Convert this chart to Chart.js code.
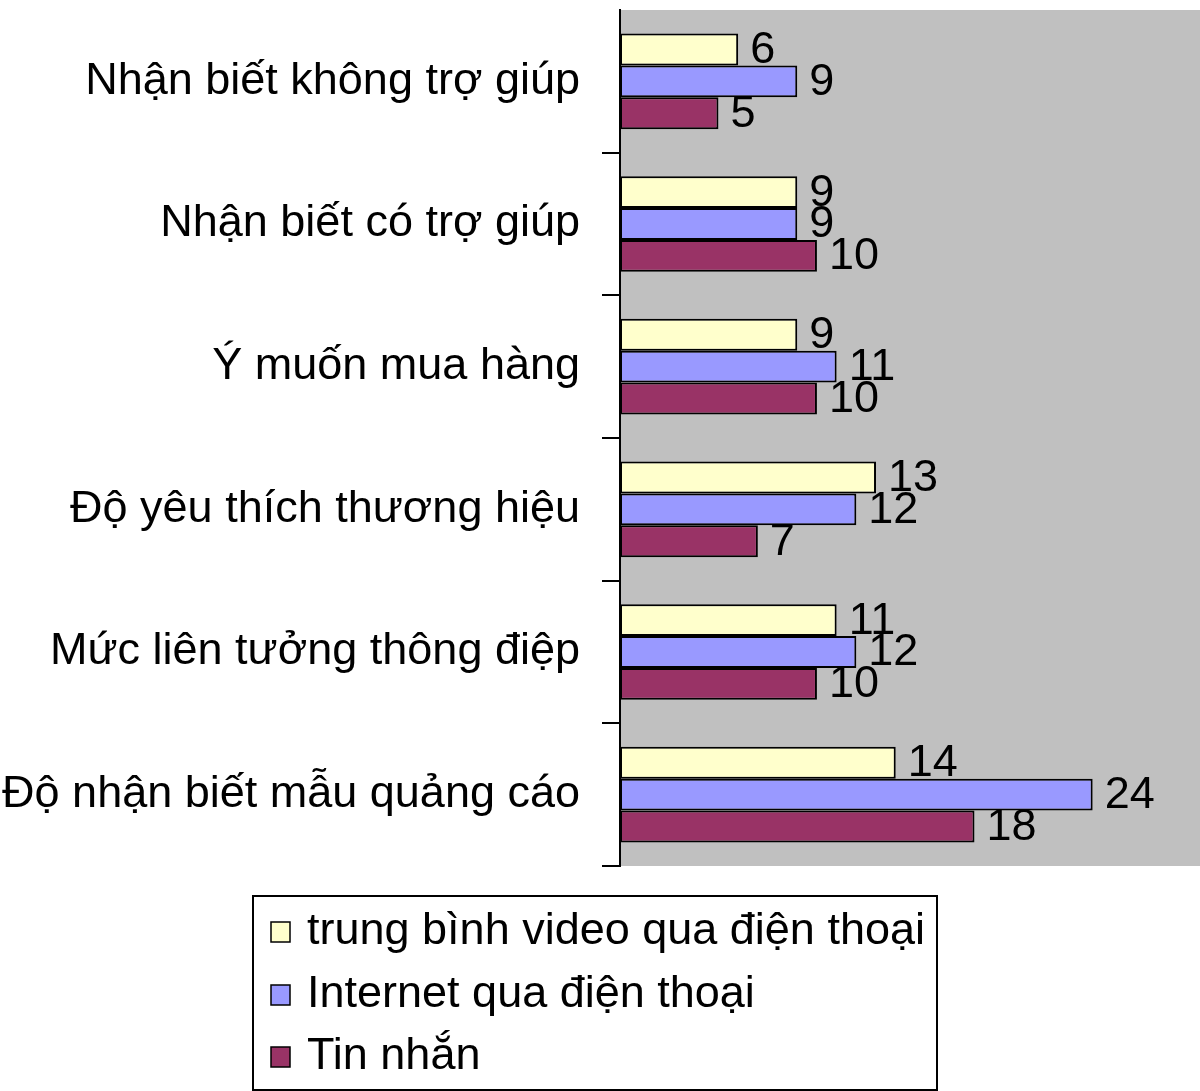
<!DOCTYPE html>
<html>
<head>
<meta charset="utf-8">
<script src="https://cdn.jsdelivr.net/npm/chart.js@4.4.0/dist/chart.umd.min.js"></script>
<style>
html,body{margin:0;padding:0;background:#fff;}
#wrap{width:1200px;height:1091px;position:relative;}
</style>
</head>
<body>
<div id="wrap"><canvas id="c" width="1200" height="1091"></canvas></div>
<script>
const categories = [
  "Nhận biết không trợ giúp",
  "Nhận biết có trợ giúp",
  "Ý muốn mua hàng",
  "Độ yêu thích thương hiệu",
  "Mức liên tưởng thông điệp",
  "Độ nhận biết mẫu quảng cáo"
];
const seriesNames = ["trung bình video qua điện thoại", "Internet qua điện thoại", "Tin nhắn"];
const videoValues = [6, 9, 9, 13, 11, 14];
const internetValues = [9, 9, 11, 12, 12, 24];
const smsValues = [5, 10, 10, 7, 10, 18];
const colors = ["#FFFFCC", "#9999FF", "#993366"];

const FONT = "'Liberation Sans', Arial, sans-serif";
const FS = 45;

const bgPlugin = {
  id: 'bg',
  beforeDraw(chart) {
    const a = chart.chartArea, ctx = chart.ctx;
    ctx.save();
    ctx.fillStyle = '#C0C0C0';
    ctx.fillRect(a.left, a.top, a.right - a.left, a.bottom - a.top);
    ctx.restore();
  }
};

const labelPlugin = {
  id: 'vals',
  afterDatasetsDraw(chart) {
    const ctx = chart.ctx;
    ctx.save();
    ctx.font = FS + 'px ' + FONT;
    ctx.fillStyle = '#000';
    ctx.textAlign = 'left';
    ctx.textBaseline = 'middle';
    chart.data.datasets.forEach((ds, i) => {
      const meta = chart.getDatasetMeta(i);
      meta.data.forEach((el, j) => {
        ctx.fillText(String(ds.data[j]), el.x + 12, el.y + 1);
      });
    });
    ctx.restore();
  }
};

const legendPlugin = {
  id: 'boxLegend',
  afterDraw(chart) {
    const ctx = chart.ctx;
    ctx.save();
    ctx.strokeStyle = '#000';
    ctx.lineWidth = 2;
    ctx.strokeRect(253, 896, 684, 194);
    ctx.font = FS + 'px ' + FONT;
    ctx.textBaseline = 'middle';
    ctx.textAlign = 'left';
    const ys = [932, 995, 1057];
    chart.data.datasets.forEach((ds, i) => {
      ctx.fillStyle = ds.backgroundColor;
      ctx.fillRect(271, ys[i] - 10, 19, 20);
      ctx.lineWidth = 1.5;
      ctx.strokeStyle = '#000';
      ctx.strokeRect(271, ys[i] - 10, 19, 20);
      ctx.fillStyle = '#000';
      ctx.fillText(ds.label, 307, ys[i]);
    });
    ctx.restore();
  }
};

new Chart(document.getElementById('c'), {
  type: 'bar',
  data: {
    labels: categories,
    datasets: [
      { label: seriesNames[0], data: videoValues, backgroundColor: colors[0] },
      { label: seriesNames[1], data: internetValues, backgroundColor: colors[1] },
      { label: seriesNames[2], data: smsValues, backgroundColor: colors[2] }
    ].map(d => Object.assign(d, { borderColor: '#000', borderWidth: 2, borderSkipped: false, categoryPercentage: 0.67, barPercentage: 1.0 }))
  },
  options: {
    indexAxis: 'y',
    responsive: false,
    animation: false,
    layout: { padding: { top: 10, bottom: 225, right: 0, left: 0 } },
    plugins: { legend: { display: false }, tooltip: { enabled: false } },
    scales: {
      x: { display: false, min: 0, max: 29.45 },
      y: {
        afterFit(scale) { scale.width = 620; scale.paddingTop = 0; scale.paddingBottom = 0; },
        border: { display: true, color: '#000', width: 2 },
        grid: {
          drawOnChartArea: false, drawTicks: true, tickLength: 18, lineWidth: 2, offset: true,
          color: (c) => (c.index === 0 ? 'rgba(0,0,0,0)' : '#000')
        },
        ticks: { color: '#000', font: { size: FS, family: FONT }, padding: 22 }
      }
    }
  },
  plugins: [bgPlugin, labelPlugin, legendPlugin]
});
</script>
</body>
</html>
